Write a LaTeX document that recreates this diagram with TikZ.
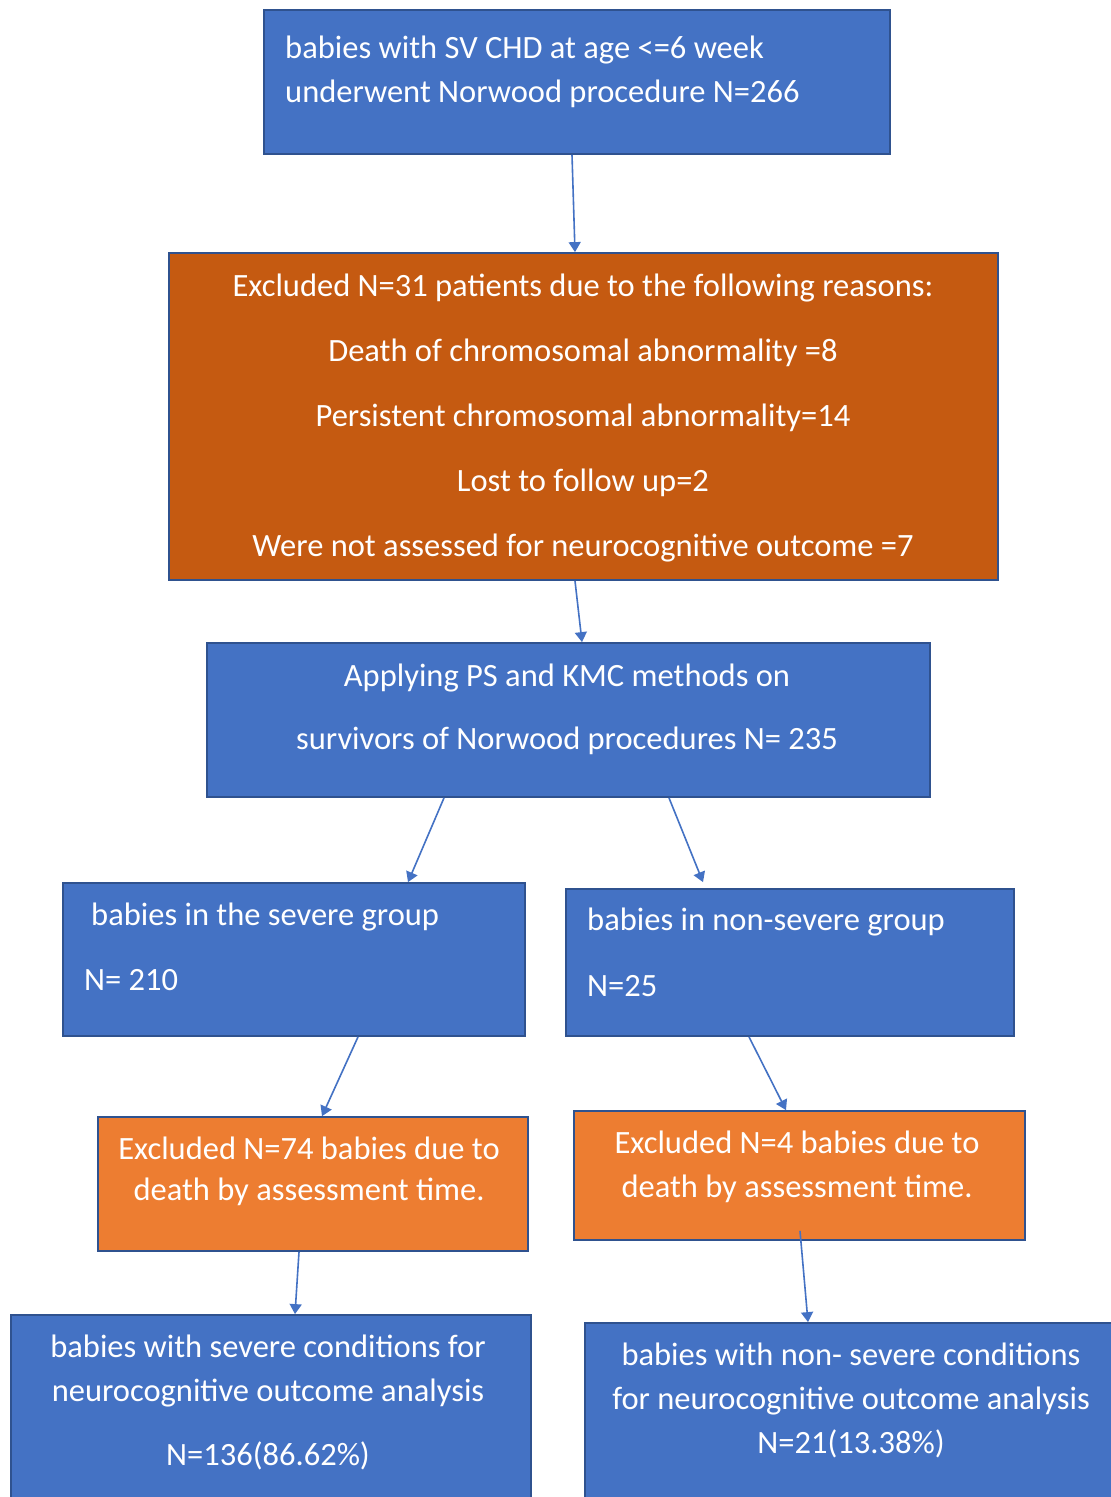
\documentclass[tikz,border=0pt]{standalone}
\usepackage{fontspec}
\setmainfont{Carlito}
\usetikzlibrary{arrows.meta}
\definecolor{boxblue}{HTML}{4472C4}
\definecolor{edgeblue}{HTML}{2F528F}
\definecolor{darkorange}{HTML}{C55A11}
\definecolor{lightorange}{HTML}{ED7D31}
\begin{document}
\begin{tikzpicture}[x=1pt, y=-1pt,
box/.style={draw=edgeblue, line width=1.8pt, inner sep=0pt},
bluebox/.style={box, fill=boxblue},
darkbox/.style={box, fill=darkorange},
orangebox/.style={box, fill=lightorange},
txt/.style={text=white, inner sep=0pt, font=\fontsize{32.5}{44}\selectfont},
arr/.style={draw=boxblue, line width=1.6pt, -{Triangle[width=12pt,length=10pt]}},
]
\clip (0,0) rectangle (1111,1497);
\fill[white] (0,0) rectangle (1111,1497);

% boxes
\node [bluebox, minimum width=626pt, minimum height=144pt] (top) at (577,82) {};
\node [darkbox, minimum width=829pt, minimum height=327pt] (excl) at (583.5,416.5) {};
\node [bluebox, minimum width=723pt, minimum height=154pt] (apply) at (568.5,720) {};
\node [bluebox, minimum width=462pt, minimum height=153pt] (sev) at (294,959.5) {};
\node [bluebox, minimum width=448pt, minimum height=147pt] (nonsev) at (790,962.5) {};
\node [orangebox, minimum width=430pt, minimum height=134pt] (exsev) at (313,1184) {};
\node [orangebox, minimum width=451pt, minimum height=129pt] (exnon) at (799.5,1175.5) {};
\node [bluebox, minimum width=520pt, minimum height=205pt] (finsev) at (271,1417.5) {};
\node [bluebox, minimum width=545pt, minimum height=197pt] (finnon) at (857.5,1421.5) {};

% texts (anchored at the baseline of the last line)
\node [txt, align=left, anchor=base west] (ttop) at (285,102)
	{babies with SV CHD at age <=6 week\\underwent Norwood procedure N=266};
\node [txt, align=center, anchor=base, font=\fontsize{32.5}{65}\selectfont] (texcl) at (583,556)
	{Excluded N=31 patients due to the following reasons:\\
	 Death of chromosomal abnormality =8\\
	 Persistent chromosomal abnormality=14\\
	 Lost to follow up=2\\
	 Were not assessed for neurocognitive outcome =7};
\node [txt, align=center, anchor=base, font=\fontsize{32.5}{63}\selectfont] (tapply) at (567,749)
	{Applying PS and KMC methods on\\survivors of Norwood procedures N= 235};
\node [txt, align=left, anchor=base west, font=\fontsize{32.5}{65}\selectfont] (tsev) at (84,990)
	{\hspace*{7pt}babies in the severe group\\N= 210};
\node [txt, align=left, anchor=base west, font=\fontsize{32.5}{66}\selectfont] (tnonsev) at (587,996)
	{babies in non-severe group\\N=25};
\node [txt, align=center, anchor=base, font=\fontsize{32.5}{41}\selectfont] (texsev) at (309,1200)
	{Excluded N=74 babies due to\\death by assessment time.};
\node [txt, align=center, anchor=base] (texnon) at (797,1197)
	{Excluded N=4 babies due to\\death by assessment time.};
\node [txt, align=center, anchor=base] (tfinsev) at (268,1465)
	{babies with severe conditions for\\neurocognitive outcome analysis\\[20pt]N=136(86.62\%)};
\node [txt, align=center, anchor=base] (tfinnon) at (851,1453)
	{babies with non- severe conditions\\for neurocognitive outcome analysis\\N=21(13.38\%)};

% arrows
\draw [arr] ([xshift=-5pt]top.south) -- ([xshift=-8.5pt]excl.north);
\draw [arr] ([xshift=-8.5pt]excl.south) -- ([xshift=13.5pt]apply.north);
\draw [arr] ([xshift=-124.5pt]apply.south) -- ([xshift=114pt]sev.north);
\draw [arr] ([xshift=100.5pt]apply.south) -- ([xshift=-87pt,yshift=6pt]nonsev.north);
\draw [arr] ([xshift=64pt]sev.south) -- ([xshift=9pt]exsev.north);
\draw [arr] ([xshift=-41pt]nonsev.south) -- ([xshift=-13.5pt]exnon.north);
\draw [arr] ([xshift=-14pt]exsev.south) -- ([xshift=24pt]finsev.north);
\draw [arr] ([xshift=0.5pt,yshift=10pt]exnon.south) -- ([xshift=-49.5pt]finnon.north);
\end{tikzpicture}
\end{document}
